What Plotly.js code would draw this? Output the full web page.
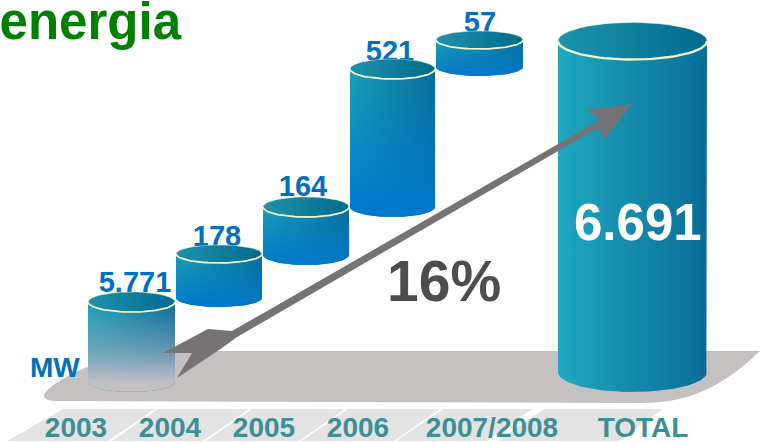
<!DOCTYPE html>
<html><head><meta charset="utf-8">
<script src="https://cdn.plot.ly/plotly-3.0.1.min.js"></script>
<style>html,body{margin:0;padding:0;background:#fff}#c{width:760px;height:443px}</style>
</head><body><div id="c"></div>
<script>
// Chart data
const categories = ["2003","2004","2005","2006","2007/2008","TOTAL"];
const categoryAt = [76,170,264,358,492,643];
const values = [5771,178,164,521,57,6691];
const columnLeft = [88,176,263,350,436,558];
const columnRight = [175,262,349,435,523,707];
const columnTop = [302,254,207,69,40,41];
const columnBottom = [382,298,255,207,67,372];
const capDepth = [10,9,10,10,9,18.5];
const labelAt = [135,217,303,390,480];
const labelBase = [295,249,199,64,35];
const FONT = '"Liberation Sans", Arial, sans-serif';
const BLUE = '#0070c0';

const fmt = v => { const s = String(v); return s.length > 3 ? s.slice(0,-3)+'.'+s.slice(-3) : s; };
function arc(cx, rx, cy, ry, a0, a1) {
  const xs = [], ys = [];
  for (let i = 0; i <= 48; i++) { const a = a0 + (a1-a0)*i/48; xs.push(cx+rx*Math.cos(a)); ys.push(cy+ry*Math.sin(a)); }
  return [xs, ys];
}
const traces = [];
traces.push({type:'scatter',mode:'text',x:labelAt,y:labelBase.map(v=>v-10),text:values.slice(0,5).map(fmt),
  textposition:'middle center',textfont:{family:FONT,size:29,color:BLUE,weight:700},hoverinfo:'skip',cliponaxis:false});

values.forEach((v,i)=>{
  const cx=(columnLeft[i]+columnRight[i])/2, rx=(columnRight[i]-columnLeft[i])/2, ry=capDepth[i];
  const isTotal = i===5, isFirst = i===0;
  const [ux,uy]=arc(cx,rx,columnTop[i],ry,Math.PI,0);
  const [lx,ly]=arc(cx,rx,columnBottom[i],isTotal?20:ry,0,Math.PI);
  const bodyX=ux.concat(lx), bodyY=uy.concat(ly);
  traces.push({type:'scatter',mode:'lines',x:bodyX,y:bodyY,fill:'toself',line:{width:0},hoverinfo:'skip',
    fillgradient:{type:'horizontal',colorscale:[[0,isTotal?'#1fa8bf':'#1aa0b8'],[1,isTotal?'#0a6c97':'#0a6c98']]}});
  if(!isTotal){
    traces.push({type:'scatter',mode:'lines',x:bodyX,y:bodyY,fill:'toself',line:{width:0},hoverinfo:'skip',
      fillgradient:{type:'vertical',colorscale:isFirst
        ? [[0,'rgba(196,193,192,1)'],[0.12,'rgba(190,190,196,1)'],[0.5,'rgba(150,170,190,0.6)'],[1,'rgba(150,170,190,0)']]
        : [[0,'rgba(0,120,205,1)'],[1,'rgba(0,120,200,0)']]}});
  }
  const [a1x,a1y]=arc(cx,rx,columnTop[i],ry,0,2*Math.PI);
  traces.push({type:'scatter',mode:'lines',x:a1x,y:a1y,fill:'toself',line:{width:0.8,color:'rgba(225,235,190,0.55)'},hoverinfo:'skip',
    fillgradient:{type:'horizontal',colorscale:[[0,'#1d93ad'],[1,'#006a8e']]}});
  const [rimX,rimY]=arc(cx,rx,columnTop[i],ry,0,Math.PI);
  traces.push({type:'scatter',mode:'lines',x:rimX,y:rimY,line:{width:isTotal?2.4:1.8,color:'#f0f5cc'},hoverinfo:'skip'});
});
const arrowX=[163,208,232,600,587,632,605,598,237,222,177,192,163];
const arrowY=[353,329,331,120,110,104,139,128,337,348,378,353,353];
traces.push({type:'scatter',mode:'lines',x:arrowX,y:arrowY,fill:'toself',fillcolor:'#757373',line:{width:0},hoverinfo:'skip'});

const strip=(a,b,c,d)=>({type:'path',layer:'below',xref:'x',yref:'y',path:`M${a},409 L${b},409 L${c},441 L${d},441 Z`,fillcolor:'#e3e3e3',line:{width:0}});
const layout={
  width:760,height:443,margin:{l:0,r:0,t:0,b:0},paper_bgcolor:'#fff',plot_bgcolor:'#fff',showlegend:false,
  title:{text:'energia',font:{family:FONT,size:51,color:'#008000',weight:700},x:181/760,xanchor:'right',xref:'paper',y:1-39/443,yanchor:'bottom',yref:'paper',automargin:false},
  xaxis:{range:[0,760],showgrid:false,zeroline:false,showline:false,ticks:'',tickmode:'array',tickvals:categoryAt,ticktext:categories,
    ticklabelposition:'inside',ticklabelstandoff:-3,tickfont:{family:FONT,size:28,color:'#3b8f96',weight:700},fixedrange:true},
  yaxis:{range:[443,0],visible:false,fixedrange:true},
  shapes:[
    {type:'path',layer:'below',xref:'x',yref:'y',path:'M60,401 Q40,401 45,393 Q55,380 92,365 L130,351 L760,351 Q725,385 690,396 Q670,403 640,403 Z',fillcolor:'#c4c1c0',line:{width:0}},
    strip(63,155,108,7),strip(158,249,203,112),strip(252,345,299,206),strip(348,440,394,301),strip(443,532,487,396),strip(544,663,618,498)
  ],
  annotations:[
    {text:'MW',x:55,y:367,xref:'x',yref:'y',showarrow:false,font:{family:FONT,size:28,color:BLUE,weight:700}},
    {text:fmt(values[5]),x:638,y:222,xref:'x',yref:'y',showarrow:false,font:{family:FONT,size:51,color:'#fff',weight:700}},
    {text:'16%',x:444,y:281,xref:'x',yref:'y',showarrow:false,font:{family:FONT,size:57,color:'#4d4d4d',weight:700}}
  ]
};
Plotly.newPlot('c',traces,layout,{staticPlot:true,displayModeBar:false});
</script></body></html>
